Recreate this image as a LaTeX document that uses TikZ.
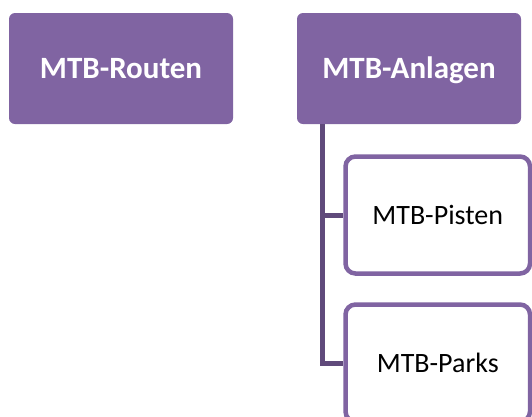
\documentclass[tikz,border=0pt]{standalone}
\usepackage{fontspec}
\setmainfont{Carlito}
\usetikzlibrary{positioning}

\definecolor{lilac}{HTML}{8064A2}
\definecolor{darklilac}{HTML}{604A7B}

\tikzset{
  topbox/.style={fill=lilac, text=white, rounded corners=6pt,
    minimum width=224pt, minimum height=111pt,
    text height=20pt, text depth=0pt,
    font=\fontsize{31}{36}\selectfont\bfseries},
  subbox/.style={draw=lilac, fill=white, line width=4.5pt, rounded corners=10pt,
    minimum width=184.5pt, minimum height=117pt,
    text height=18pt, text depth=0pt,
    font=\fontsize{28}{32}\selectfont},
  trunk/.style={draw=darklilac, line width=5pt}
}

\begin{document}
\begin{tikzpicture}[x=1pt,y=1pt]
            \useasboundingbox (0,0) rectangle (532,-416);

            \node (1) [topbox] at (121,-68.5) {MTB-Routen};
            \node (2) [topbox, right of=1, node distance=288pt] {MTB-Anlagen};
            \node (3) [subbox, below of=2, node distance=146.5pt, xshift=28.75pt] {MTB-Pisten};
            \node (4) [subbox, below of=3, node distance=148pt] {MTB-Parks};

            \coordinate (t) at ([xshift=25.5pt]2.south west);
            \path[trunk] (t) |- (4.west);
            \path[trunk] (t |- 3.west) -- (3.west);

        \end{tikzpicture}
\end{document}
